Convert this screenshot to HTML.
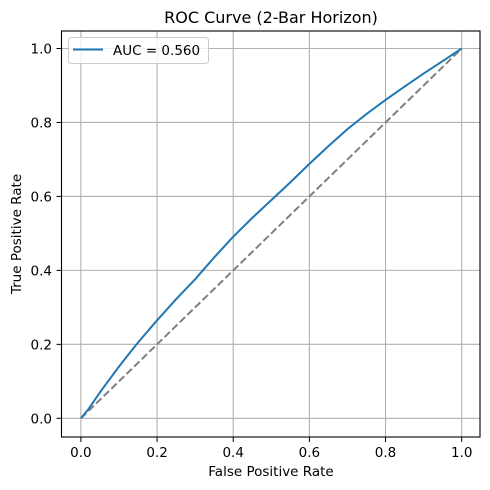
<!DOCTYPE html>
<html><head><meta charset="utf-8"><style>
body{margin:0;background:#fff;}
svg{display:block;font-family:"DejaVu Sans","Liberation Sans",sans-serif;}
</style></head><body>
<svg id="chart" width="490" height="490">
<rect x="0" y="0" width="490" height="490" fill="#fff"/>
<g id="grid"></g>
<g id="ticks"></g>
<line x1="80.9" y1="418.3" x2="461.7" y2="48.5" stroke="#808080" stroke-width="2" stroke-dasharray="7.4,3.2"/>
<path id="roc" fill="none" stroke="#1f77b4" stroke-width="2" stroke-linejoin="round"/>
<rect x="61.5" y="31" width="418.5" height="406" fill="none" stroke="#000" stroke-width="1.1"/>
<text x="271" y="23" font-size="16" text-anchor="middle">ROC Curve (2-Bar Horizon)</text>
<text x="271" y="476" font-size="13.5" text-anchor="middle">False Positive Rate</text>
<text x="21" y="234" font-size="13.5" text-anchor="middle" transform="rotate(-90 21 234)">True Positive Rate</text>
<g>
<rect x="68.5" y="37.5" width="140" height="26" rx="3" fill="#fff" fill-opacity="0.8" stroke="#ccc"/>
<line x1="73" y1="49.5" x2="103" y2="49.5" stroke="#1f77b4" stroke-width="2"/>
<text x="113" y="55" font-size="13.5">AUC = 0.560</text>
</g>
</svg>
<script>
const fpr=[0,0.02,0.05,0.1,0.15,0.2,0.25,0.3,0.35,0.4,0.45,0.5,0.55,0.6,0.65,0.7,0.75,0.8,0.85,0.9,0.95,1.0];
const tpr=[0,0.025,0.07,0.14,0.205,0.265,0.322,0.376,0.435,0.491,0.542,0.59,0.638,0.688,0.736,0.782,0.823,0.861,0.897,0.932,0.966,1.0];
const ticks=[0,0.2,0.4,0.6,0.8,1.0];
const tickLabels=["0.0","0.2","0.4","0.6","0.8","1.0"];
const X=v=>80.9+v*(461.7-80.9);
const Y=v=>418.3-v*(418.3-48.5);
const ns="http://www.w3.org/2000/svg";
const grid=document.getElementById('grid'),tg=document.getElementById('ticks');
ticks.forEach((t,i)=>{
 let l=document.createElementNS(ns,'line');
 l.setAttribute('x1',X(t));l.setAttribute('x2',X(t));l.setAttribute('y1',31);l.setAttribute('y2',437);
 l.setAttribute('stroke','#b0b0b0');l.setAttribute('stroke-width','1.1');
 
 
 grid.appendChild(l);
 let h=document.createElementNS(ns,'line');
 h.setAttribute('x1',61.5);h.setAttribute('x2',480);h.setAttribute('y1',Y(t));h.setAttribute('y2',Y(t));
 h.setAttribute('stroke','#b0b0b0');h.setAttribute('stroke-width','1.1');
 
 
 grid.appendChild(h);
 let xt=document.createElementNS(ns,'line');
 xt.setAttribute('x1',X(t));xt.setAttribute('x2',X(t));xt.setAttribute('y1',437);xt.setAttribute('y2',442);xt.setAttribute('stroke','#000');
 
 
 tg.appendChild(xt);
 let yt=document.createElementNS(ns,'line');
 yt.setAttribute('x1',56.5);yt.setAttribute('x2',61.5);yt.setAttribute('y1',Y(t));yt.setAttribute('y2',Y(t));yt.setAttribute('stroke','#000');
 
 
 tg.appendChild(yt);
 let xl=document.createElementNS(ns,'text');
 xl.setAttribute('x',X(t));xl.setAttribute('y',457);xl.setAttribute('font-size','13.5');xl.setAttribute('text-anchor','middle');
 xl.textContent=tickLabels[i];
 
 
 tg.appendChild(xl);
 let yl=document.createElementNS(ns,'text');
 yl.setAttribute('x',52);yl.setAttribute('y',Y(t)+5);yl.setAttribute('font-size','13.5');yl.setAttribute('text-anchor','end');
 yl.textContent=tickLabels[i];
 
 
 tg.appendChild(yl);
});
document.getElementById('roc').setAttribute('d',fpr.map((f,i)=>(i?'L':'M')+X(f).toFixed(1)+','+Y(tpr[i]).toFixed(1)).join(''));
</script>
</body></html>
